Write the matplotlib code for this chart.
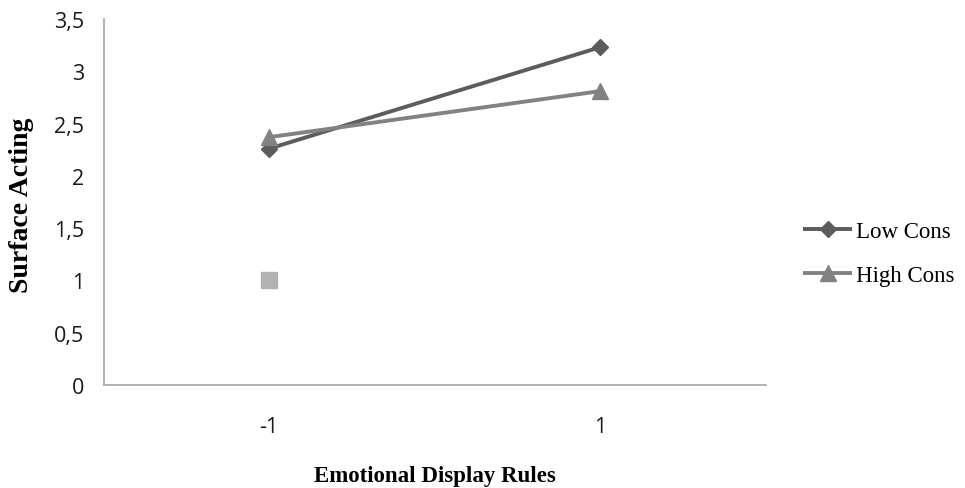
import matplotlib
matplotlib.use('Agg')
import matplotlib.pyplot as plt
import numpy as np

# data
categories = ['-1', '1']
low_cons = [2.26, 3.23]
high_cons = [2.37, 2.81]
stray_point = [1.0]          # lone grey square at the first category
y_ticks = [0, 0.5, 1, 1.5, 2, 2.5, 3, 3.5]
y_tick_labels = ['0', '0,5', '1', '1,5', '2', '2,5', '3', '3,5']

fig = plt.figure(figsize=(9.65, 4.89), dpi=100)
ax = fig.add_axes([0.1073, 0.2106, 0.686, 0.7485])

x = np.arange(len(categories))
l1, = ax.plot(x, low_cons, color='#5c5c5c', lw=2.8, marker='D', ms=8.5,
              label='Low Cons', solid_capstyle='butt')
l2, = ax.plot(x, high_cons, color='#828282', lw=2.8, marker='^', ms=12,
              label='High Cons', solid_capstyle='butt')
ax.plot(x[:1], stray_point, ls='none', marker='s', ms=12, color='#b2b2b2')

ax.set_xlim(-0.5, len(categories) - 0.5)
ax.set_ylim(0, 3.5)
ax.set_xticks(x)
ax.set_xticklabels(categories)
ax.set_yticks(y_ticks)
ax.set_yticklabels(y_tick_labels)
ax.tick_params(length=0, labelsize=15.5, colors='#1a1a1a')
ax.tick_params(axis='x', pad=22)
ax.tick_params(axis='y', pad=14)
for lab in ax.get_xticklabels() + ax.get_yticklabels():
    lab.set_family('Open Sans')

for side in ['top', 'right']:
    ax.spines[side].set_visible(False)
for side in ['left', 'bottom']:
    ax.spines[side].set_color('#a6a6a6')
    ax.spines[side].set_linewidth(1.2)

fig.text(0.451, 0.0143, 'Emotional Display Rules', ha='center', va='baseline',
         family='Liberation Serif', weight='bold', fontsize=16.5)
fig.text(0.0223, 0.581, 'Surface Acting', ha='center', va='center', rotation=90,
         family='Liberation Serif', weight='bold', fontsize=20)

leg = fig.legend(handles=[l1, l2], loc='center left',
                 bbox_to_anchor=(0.832, 0.479), frameon=False,
                 prop={'family': 'Liberation Serif', 'size': 16.5},
                 borderaxespad=0, borderpad=0,
                 handlelength=2.15, handletextpad=0.17, labelspacing=1.0)

fig.savefig('out.png', dpi=100)
